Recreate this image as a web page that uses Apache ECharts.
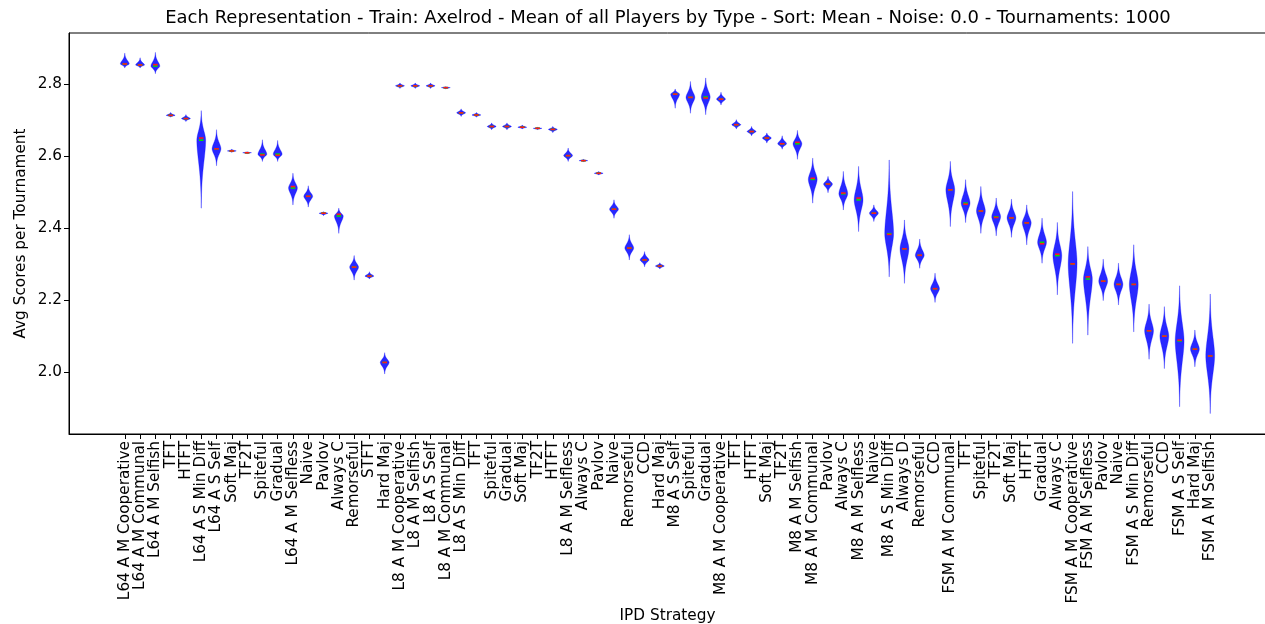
<!DOCTYPE html>
<html>
<head>
<meta charset="utf-8">
<script src="https://cdn.jsdelivr.net/npm/echarts@6/dist/echarts.min.js"></script>
<style>
html,body{margin:0;padding:0;background:#fff;}
#chart{width:1265px;height:624px;}
</style>
</head>
<body>
<div id="chart"></div>
<script>
const titleText = "Each Representation - Train: Axelrod - Mean of all Players by Type - Sort: Mean - Noise: 0.0 - Tournaments: 1000";
const xAxisName = "IPD Strategy";
const yAxisName = "Avg Scores per Tournament";

const categories = [
  "L64 A M Cooperative","L64 A M Communal","L64 A M Selfish","TFT","HTFT","L64 A S Min Diff","L64 A S Self","Soft Maj","TF2T","Spiteful",
  "Gradual","L64 A M Selfless","Naive","Pavlov","Always C","Remorseful","STFT","Hard Maj","L8 A M Cooperative","L8 A M Selfish",
  "L8 A S Self","L8 A M Communal","L8 A S Min Diff","TFT","Spiteful","Gradual","Soft Maj","TF2T","HTFT","L8 A M Selfless",
  "Always C","Pavlov","Naive","Remorseful","CCD","Hard Maj","M8 A S Self","Spiteful","Gradual","M8 A M Cooperative",
  "TFT","HTFT","Soft Maj","TF2T","M8 A M Selfish","M8 A M Communal","Pavlov","Always C","M8 A M Selfless","Naive",
  "M8 A S Min Diff","Always D","Remorseful","CCD","FSM A M Communal","TFT","Spiteful","TF2T","Soft Maj","HTFT",
  "Gradual","Always C","FSM A M Cooperative","FSM A M Selfless","Pavlov","Naive","FSM A S Min Diff","Remorseful","CCD","FSM A S Self",
  "Hard Maj","FSM A M Selfish"
];

const means = [
  2.856,2.853,2.854,2.713,2.704,2.650,2.620,2.614,2.609,2.603,
  2.602,2.515,2.488,2.441,2.438,2.291,2.266,2.026,2.795,2.795,
  2.795,2.790,2.720,2.714,2.682,2.682,2.680,2.677,2.674,2.601,
  2.587,2.552,2.452,2.344,2.311,2.294,2.772,2.763,2.761,2.758,
  2.687,2.668,2.650,2.634,2.638,2.538,2.522,2.497,2.483,2.441,
  2.382,2.342,2.324,2.231,2.506,2.466,2.447,2.429,2.428,2.414,
  2.356,2.327,2.300,2.264,2.252,2.243,2.243,2.114,2.099,2.088,
  2.063,2.044
];

const medians = [
  2.856,2.853,2.850,2.713,2.704,2.644,2.620,2.614,2.609,2.605,
  2.605,2.511,2.488,2.441,2.433,2.291,2.266,2.026,2.795,2.795,
  2.795,2.790,2.720,2.714,2.682,2.682,2.680,2.677,2.674,2.601,
  2.587,2.552,2.452,2.344,2.311,2.294,2.772,2.763,2.764,2.758,
  2.687,2.668,2.650,2.634,2.634,2.535,2.522,2.495,2.478,2.441,
  2.384,2.342,2.324,2.231,2.506,2.469,2.447,2.431,2.428,2.414,
  2.360,2.323,2.300,2.258,2.252,2.243,2.243,2.114,2.099,2.086,
  2.063,2.044
];

const mins = [
  2.845,2.845,2.829,2.708,2.696,2.455,2.573,2.610,2.606,2.585,
  2.585,2.464,2.458,2.434,2.385,2.255,2.258,1.994,2.788,2.788,
  2.788,2.786,2.710,2.708,2.673,2.673,2.675,2.673,2.665,2.585,
  2.584,2.547,2.427,2.311,2.292,2.286,2.733,2.719,2.715,2.742,
  2.675,2.656,2.636,2.619,2.591,2.469,2.498,2.450,2.390,2.418,
  2.264,2.246,2.288,2.193,2.404,2.415,2.385,2.378,2.374,2.353,
  2.302,2.214,2.079,2.102,2.198,2.186,2.111,2.035,2.009,1.903,
  2.014,1.884
];

const maxs = [
  2.886,2.873,2.888,2.721,2.715,2.726,2.673,2.619,2.612,2.645,
  2.643,2.552,2.517,2.445,2.455,2.323,2.278,2.053,2.803,2.803,
  2.803,2.793,2.731,2.721,2.692,2.692,2.686,2.680,2.682,2.622,
  2.591,2.557,2.478,2.381,2.334,2.303,2.786,2.807,2.817,2.777,
  2.701,2.682,2.664,2.656,2.671,2.594,2.543,2.557,2.571,2.464,
  2.589,2.422,2.369,2.274,2.585,2.534,2.515,2.483,2.480,2.464,
  2.427,2.415,2.501,2.348,2.313,2.302,2.353,2.188,2.181,2.239,
  2.116,2.216
];

const yTicks = [2.0, 2.2, 2.4, 2.6, 2.8];
const xTicks = categories.map((c, i) => i + 1);

const FONT = "DejaVu Sans";
const chart = echarts.init(document.getElementById('chart'), null, {renderer: 'canvas'});

const data = categories.map((c, i) => [i + 1, means[i], medians[i], mins[i], maxs[i]]);

function renderViolin(params, api) {
  const x = api.value(0), mean = api.value(1), med = api.value(2), lo = api.value(3), hi = api.value(4);
  const mode = med;
  const N = 80;
  const sUp = Math.max((hi - mode) / 2.15, 1e-6);
  const sDn = Math.max((mode - lo) / 2.15, 1e-6);
  const left = [], right = [];
  for (let k = 0; k <= N; k++) {
    const y = lo + (hi - lo) * k / N;
    const d = y - mode;
    const s = d >= 0 ? sUp : sDn;
    const f = Math.exp(-Math.pow(Math.abs(d) / s, 1.8));
    const hw = 0.29 * f;
    left.push(api.coord([x - hw, y]));
    right.push(api.coord([x + hw, y]));
  }
  const pts = left.concat(right.reverse());
  const m0 = api.coord([x - 0.15, mean]), m1 = api.coord([x + 0.15, mean]);
  const d0 = api.coord([x - 0.15, med]), d1 = api.coord([x + 0.15, med]);
  return {
    type: 'group',
    children: [
      {type: 'polygon', shape: {points: pts, smooth: 0}, style: {fill: 'rgba(10,10,255,0.88)', stroke: 'rgba(0,0,255,0.35)', lineWidth: 0.8}},
      {type: 'line', shape: {x1: d0[0], y1: d0[1], x2: d1[0], y2: d1[1]}, style: {stroke: '#00e000', lineWidth: 1.6}},
      {type: 'line', shape: {x1: m0[0], y1: m0[1], x2: m1[0], y2: m1[1]}, style: {stroke: '#ff1a1a', lineWidth: 1.6}}
    ]
  };
}

const option = {
  animation: false,
  backgroundColor: '#fff',
  textStyle: {fontFamily: FONT},
  graphic: [{
    type: 'text', x: 668, y: 18,
    style: {text: titleText, fill: '#000', font: '18px "DejaVu Sans"', textAlign: 'center', textVerticalAlign: 'middle'}
  }],
  grid: {left: 69, top: 33, right: -1, bottom: 190, show: true, borderColor: '#000', borderWidth: 1,
    backgroundColor: 'transparent', containLabel: false, outerBoundsMode: 'none'},
  xAxis: {
    type: 'value', min: -2.65, max: 75.65,
    name: xAxisName, nameLocation: 'middle', nameGap: 175, nameMoveOverlap: false,
    nameTextStyle: {color: '#000', fontSize: 15.3, fontFamily: FONT},
    axisLine: {show: true, onZero: false, lineStyle: {color: '#000', width: 1}},
    axisTick: {show: true, length: 5, lineStyle: {color: '#000'}, customValues: xTicks},
    axisLabel: {show: true, rotate: 90, color: '#000', fontSize: 15.3, fontFamily: FONT, margin: 7,
      customValues: xTicks, formatter: v => categories[Math.round(v) - 1] || ''},
    splitLine: {show: false}
  },
  yAxis: {
    type: 'value', min: 1.827, max: 2.942,
    name: yAxisName, nameLocation: 'middle', nameGap: 40, nameMoveOverlap: false,
    nameTextStyle: {color: '#000', fontSize: 15.3, fontFamily: FONT},
    axisLine: {show: true, onZero: false, lineStyle: {color: '#000', width: 1}},
    axisTick: {show: true, length: 5, lineStyle: {color: '#000'}, customValues: yTicks},
    axisLabel: {show: true, color: '#000', fontSize: 15.3, fontFamily: FONT, margin: 7,
      customValues: yTicks, formatter: v => v.toFixed(1)},
    splitLine: {show: false}
  },
  series: [{
    type: 'custom',
    renderItem: renderViolin,
    data: data,
    encode: {x: 0, y: [1, 3, 4]},
    clip: true
  }]
};
chart.setOption(option);
</script>
</body>
</html>
